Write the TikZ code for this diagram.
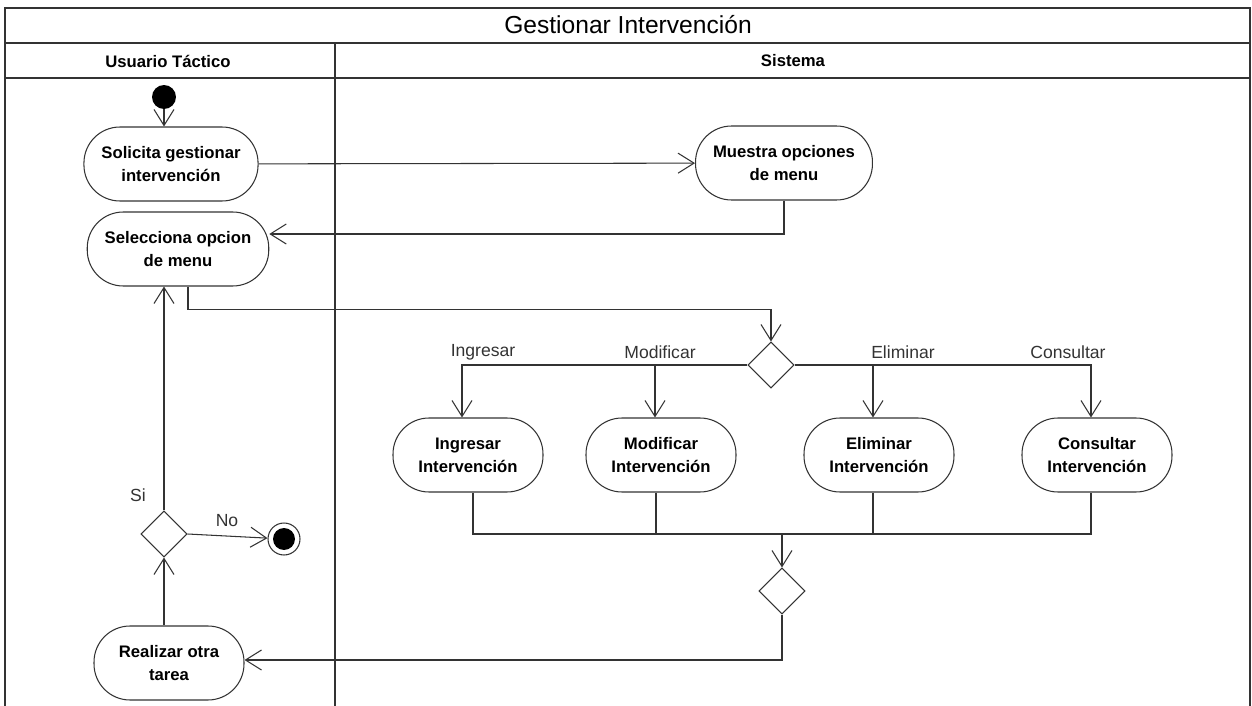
\documentclass[tikz,border=0pt]{standalone}
\usepackage{fontspec}
\setmainfont{Liberation Sans}
\usetikzlibrary{arrows.meta,positioning,calc,shapes.geometric}
\definecolor{umlline}{HTML}{333333}
\tikzset{
  activity/.style={
    rectangle,
    rounded corners=0.72cm,
    draw=umlline,
    fill=white,
    line width=0.6pt,
    align=center,
    minimum height=1.48cm,
    minimum width=3cm,
    inner xsep=0.35cm,
    font=\fontsize{9.5}{13}\selectfont\bfseries
  },
  choice/.style={
    diamond,
    draw=umlline,
    fill=white,
    line width=0.6pt,
    minimum width=0.92cm,
    minimum height=0.92cm,
    inner sep=0pt
  },
  startdot/.style={circle, fill=black, minimum size=0.48cm, inner sep=0pt},
  enddot/.style={
    circle,
    draw=umlline,
    line width=0.6pt,
    fill=white,
    minimum size=0.64cm,
    inner sep=0pt,
    path picture={\fill[black] (path picture bounding box.center) circle (0.22cm);}
  },
  guard/.style={font=\fontsize{10}{12}\selectfont, text=umlline},
  lanehead/.style={font=\fontsize{9.5}{12}\selectfont\bfseries},
  flowline/.style={-{Straight Barb[length=0.32cm, width=0.4cm]}, line width=0.6pt, draw=umlline},
  plainline/.style={line width=0.6pt, draw=umlline},
  lanerule/.style={line width=0.9pt, draw=umlline}
}
\begin{document}
\begin{tikzpicture}[x=0.02cm, y=-0.02cm]
  \useasboundingbox (0,0) rectangle (1252,706);
  \draw[lanerule] (5,706) -- (5,8) -- (1250,8) -- (1250,706);
  \draw[lanerule, line width=1.4pt] (5,43) -- (1250,43);
  \draw[lanerule] (5,78) -- (1250,78);
  \draw[lanerule] (335,43) -- (335,706);
  \node[font=\fontsize{14}{16}\selectfont] (title) at (628,25) {Gestionar Intervención};
  \node[lanehead] (usr) at (168,61) {Usuario Táctico};
  \node[lanehead] (sys) at (793,61) {Sistema};

  \node[startdot] (start) at (164,97) {};
  \node[activity] (sol) at (171,164) {Solicita gestionar\\intervención};
  \node[activity] (mue) at (784,163) {Muestra opciones\\de menu};
  \node[activity] (sel) at (178,249) {Selecciona opcion\\de menu};
  \node[choice] (dec1) at (771,365) {};
  \node[activity] (ing) at (468,455) {Ingresar\\Intervención};
  \node[activity] (mod) at (661,455) {Modificar\\Intervención};
  \node[activity] (eli) at (879,455) {Eliminar\\Intervención};
  \node[activity] (con) at (1097,455) {Consultar\\Intervención};
  \node[choice] (dec2) at (782,591) {};
  \node[choice] (dec3) at (164,534) {};
  \node[enddot] (fin) at (284,539) {};
  \node[activity] (rea) at (169,663) {Realizar otra\\tarea};

  \node[guard] (gIng) at (483,352) {Ingresar};
  \node[guard] (gMod) at (660,352) {Modificar};
  \node[guard] (gEli) at (903,352) {Eliminar};
  \node[guard] (gCon) at (1068,352) {Consultar};
  \node[guard] (gSi) at (138,495) {Si};
  \node[guard] (gNo) at (227,521) {No};

  \coordinate (ingin) at ([xshift=-0.12cm]ing.north);
  \coordinate (modin) at ([xshift=-0.12cm]mod.north);
  \coordinate (eliin) at ([xshift=-0.12cm]eli.north);
  \coordinate (conin) at ([xshift=-0.12cm]con.north);
  \coordinate (ingout) at ([xshift=0.1cm]ing.south);
  \coordinate (modout) at ([xshift=-0.1cm]mod.south);
  \coordinate (eliout) at ([xshift=-0.12cm]eli.south);
  \coordinate (conout) at ([xshift=-0.12cm]con.south);
  \coordinate (merge) at (782,534);

  \draw[flowline] (start) -- (start |- sol.north);
  \draw[flowline] (sol) -- (mue);
  \draw[flowline] (mue.south) |- ([yshift=0.3cm]sel.east);
  \draw[flowline] ([xshift=0.2cm]sel.south) -- ++(0,23) -| (dec1.north);
  \draw[flowline] (dec1.west) -| (ingin);
  \draw[flowline] (dec1.east) -| (conin);
  \draw[flowline] (modin |- dec1) -- (modin);
  \draw[flowline] (eliin |- dec1) -- (eliin);
  \draw[plainline] (ingout) |- (merge) -| (conout);
  \draw[plainline] (modout) -- (modout |- merge);
  \draw[plainline] (eliout) -- (eliout |- merge);
  \draw[flowline] (merge) -- (dec2.north);
  \draw[flowline] (dec2.south) |- ([yshift=0.06cm]rea.east);
  \draw[flowline] (dec3 |- rea.north) -- (dec3.south);
  \draw[flowline] (dec3.north) -- (dec3 |- sel.south);
  \draw[flowline] (dec3.east) -- (fin);
\end{tikzpicture}
\end{document}
